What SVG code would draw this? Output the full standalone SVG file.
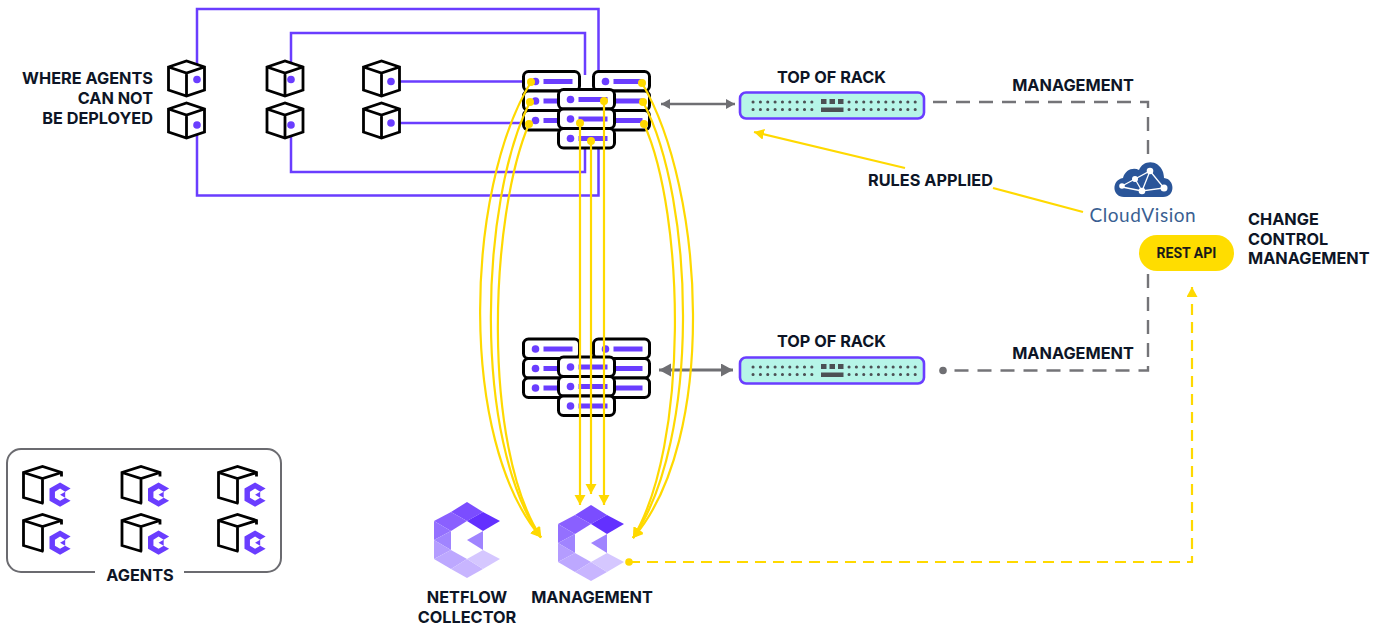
<svg xmlns="http://www.w3.org/2000/svg" width="1384" height="626" viewBox="0 0 1384 626">
<style>
text{font-family:Inter,"Liberation Sans",sans-serif;font-weight:700;font-size:16.3px;fill:#0d1526}
.c{text-anchor:middle}.r{text-anchor:end}
.cube{fill:#fff;stroke:#000;stroke-width:2.8;stroke-linejoin:miter}
.acube{fill:none;stroke:#000;stroke-width:2.8}
.pl{fill:none;stroke:#6a3dff;stroke-width:2.5}
.pd{fill:#6a3dff}
.srv{fill:#fff;stroke:#000;stroke-width:3}
.yl{fill:none;stroke:#ffd900;stroke-width:2.2}
.gd{fill:none;stroke:#747478;stroke-width:2.4;stroke-dasharray:14 9}
.ga{fill:none;stroke:#6f6f73}
.tor{fill:#b6f5e8;stroke:#6a3dff;stroke-width:2.6}
.dots{fill:none;stroke:#4c5054;stroke-width:3;stroke-linecap:round;stroke-dasharray:.1 7.25}
.blk{fill:#4c5054}
</style>
<defs>
<marker id="ay" markerUnits="userSpaceOnUse" markerWidth="12" markerHeight="12" refX="10" refY="5.500" orient="auto"><path d="M0 0L10 5.500L0 11z" fill="#ffd900"/></marker>
<marker id="ag" markerUnits="userSpaceOnUse" markerWidth="12" markerHeight="12" refX="9" refY="5" orient="auto-start-reverse"><path d="M0 0L9 5L0 10z" fill="#6f6f73"/></marker>
<marker id="ag2" markerUnits="userSpaceOnUse" markerWidth="14" markerHeight="14" refX="12" refY="6.500" orient="auto-start-reverse"><path d="M0 0L12 6.500L0 13z" fill="#6f6f73"/></marker>
<g id="cube"><path class="cube" d="M0.500 7L18.500 1L36.500 7V30L18.500 36L0.500 30Z"/><path class="cube" d="M0.500 7L18.500 13L36.500 7M18.500 13V36" style="fill:none"/></g>
<g id="srv"><rect class="srv" x="0" y="0" width="56" height="19.500" rx="5"/><circle class="pd" cx="12" cy="10" r="3.800"/><rect class="pd" x="20" y="7.500" width="29" height="5"/></g>
<g id="hexs"><path class="pd" d="M33 0L66 19L49 29L33 19L17 29V48L33 57L49 48L66 57L33 76L0 57V19ZM49 29V48L33 38Z"/></g>
<g id="agent"><path class="acube" d="M38 10V6L19 0L0 6V31L20 37M0 6L19 12L38 6M19 12V37"/><use href="#hexs" transform="translate(26 16) scale(.32)"/></g>
<g id="logo">
<path fill="#7b4dff" d="M33 0L49 10L33 19L17 10Z"/><path fill="#6330ff" d="M49 10L66 19L49 29L33 19Z"/>
<path fill="#8a60ff" d="M17 10L33 19L17 29L0 19Z"/><path fill="#9470ff" d="M0 19L17 29L0 38Z"/>
<path fill="#a084ff" d="M17 29V48L0 38Z"/><path fill="#b49cff" d="M0 38L17 48L0 57Z"/>
<path fill="#bda8ff" d="M0 57L17 48L33 57L17 67Z"/><path fill="#c8b5ff" d="M17 67L33 57L49 67L33 76Z"/>
<path fill="#d5c7ff" d="M33 57L49 48L66 57L49 67Z"/><path fill="#a084ff" d="M49 29V48L33 38Z"/>
</g>
<g id="torb"><rect class="tor" x="0" y="0" width="184" height="26" rx="6"/>
<path class="dots" d="M13 9.500H77M13 17H77M109 9.500H177M109 17H177"/>
<rect class="blk" x="81" y="6.500" width="5.500" height="5"/><rect class="blk" x="89.500" y="6.500" width="5.500" height="5"/><rect class="blk" x="98" y="6.500" width="5.500" height="5"/><rect class="blk" x="81" y="15" width="22.500" height="4.500"/></g>
</defs>

<g id="connectors-purple">
<path class="pl" d="M197 79V9H598.500V75"/>
<path class="pl" d="M197 125V195.500H598.500V145"/>
<path class="pl" d="M291 79V33H585V75"/>
<path class="pl" d="M291 125V172H585V145"/>
<path class="pl" d="M391 81.500H530"/>
<path class="pl" d="M391 123H530"/>
</g>

<g id="cube-1"><use href="#cube" x="168" y="60"/><circle class="pd" cx="197" cy="79.500" r="3.800"/></g>
<g id="cube-2"><use href="#cube" x="168" y="102"/><circle class="pd" cx="197" cy="125" r="3.800"/></g>
<g id="cube-3"><use href="#cube" x="266.500" y="60"/><circle class="pd" cx="291" cy="79.500" r="3.800"/></g>
<g id="cube-4"><use href="#cube" x="266.500" y="102"/><circle class="pd" cx="291" cy="125" r="3.800"/></g>
<g id="cube-5"><use href="#cube" x="363" y="60"/><circle class="pd" cx="391" cy="81.500" r="3.800"/></g>
<g id="cube-6"><use href="#cube" x="363" y="102"/><circle class="pd" cx="391" cy="123" r="3.800"/></g>

<g id="label-where"><text class="r" x="153" y="84">WHERE AGENTS</text><text class="r" x="153" y="104">CAN NOT</text><text class="r" x="153" y="124">BE DEPLOYED</text></g>

<g id="servers-top">
<use href="#srv" x="523.500" y="71.500"/><use href="#srv" x="523.500" y="91"/><use href="#srv" x="523.500" y="110.500"/>
<use href="#srv" x="593.500" y="71.500"/><use href="#srv" x="593.500" y="91"/><use href="#srv" x="593.500" y="110.500"/>
<use href="#srv" x="558.500" y="89.500"/><use href="#srv" x="558.500" y="109"/><use href="#srv" x="558.500" y="128.500"/>
</g>
<g id="servers-bottom">
<use href="#srv" x="523.500" y="339"/><use href="#srv" x="523.500" y="358.500"/><use href="#srv" x="523.500" y="378"/>
<use href="#srv" x="593.500" y="339"/><use href="#srv" x="593.500" y="358.500"/><use href="#srv" x="593.500" y="378"/>
<use href="#srv" x="558.500" y="357"/><use href="#srv" x="558.500" y="376.500"/><use href="#srv" x="558.500" y="396"/>
</g>

<g id="tor-top"><use href="#torb" x="740" y="92.500"/></g>
<g id="tor-bottom"><use href="#torb" x="740" y="357.500"/></g>
<g id="label-tor"><text class="c" x="831.500" y="83">TOP OF RACK</text><text class="c" x="831.500" y="347">TOP OF RACK</text></g>

<g id="connectors">
<path class="gd" d="M933 102H1148V165"/>
<path class="gd" d="M1148 274V370.500H943"/>
<circle cx="943" cy="370.500" r="3.800" fill="#6f6f73"/>
<path class="ga" stroke-width="2.4" d="M661 104H735" marker-start="url(#ag)" marker-end="url(#ag)"/>
<path class="ga" stroke-width="3" d="M659 370H733" marker-start="url(#ag2)" marker-end="url(#ag2)"/>
<path class="yl" d="M531 82C465 190 458 440 541 537.500" marker-end="url(#ay)"/>
<path class="yl" d="M530 102C480 200 472 440 541 537.500" marker-end="url(#ay)"/>
<path class="yl" d="M529 124C490 215 481 445 541 537.500" marker-end="url(#ay)"/>
<path class="yl" d="M642 83C705 190 718 440 633 538" marker-end="url(#ay)"/>
<path class="yl" d="M643 102C695 200 701 440 633 538" marker-end="url(#ay)"/>
<path class="yl" d="M644 124C685 215 689 445 633 538" marker-end="url(#ay)"/>
<path class="yl" d="M580 123V505" marker-end="url(#ay)"/>
<path class="yl" d="M591 140V494" marker-end="url(#ay)"/>
<path class="yl" d="M604 101V505" marker-end="url(#ay)"/>
<g fill="#ffd900"><circle cx="531" cy="82" r="4"/><circle cx="530" cy="102" r="4"/><circle cx="529" cy="124" r="4"/><circle cx="642" cy="83" r="4"/><circle cx="643" cy="102" r="4"/><circle cx="644" cy="124" r="4"/><circle cx="580" cy="123" r="4"/><circle cx="591" cy="141" r="4"/><circle cx="604" cy="101" r="4"/></g>
<path class="yl" d="M905 168L754 132" marker-end="url(#ay)"/>
<path class="yl" d="M993 188L1083 212"/>
<circle cx="629" cy="562" r="3.800" fill="#ffd900"/>
<path class="yl" d="M629 562H1192V287" stroke-dasharray="11 7" marker-end="url(#ay)"/>
</g>

<g id="label-mgmt"><text class="c" x="1073" y="91">MANAGEMENT</text><text class="c" x="1073" y="359">MANAGEMENT</text></g>
<text x="868" y="186">RULES APPLIED</text>

<g id="cloudvision">
<path fill="#2a5599" d="M1124 197C1112 197 1111 180 1123 178C1125 170 1133 167 1139 170C1143 160 1158 159 1163 172C1164 176 1164 177 1164 178C1175 179 1176 197 1163 197Z"/>
<path fill="none" stroke="#fff" stroke-width="1.300" d="M1122 186L1135 179L1150 171L1142 191L1164 188L1150 171M1135 179L1142 191L1122 187"/>
<g fill="#fff"><circle cx="1150" cy="171" r="3.300"/><circle cx="1135" cy="179" r="3"/><circle cx="1142" cy="191" r="3.300"/><circle cx="1164" cy="188" r="3.500"/><circle cx="1122" cy="186" r="2.800"/></g>
<text x="1089.500" y="222" style="font-family:Lato,sans-serif;font-weight:400;font-size:19px;fill:#3a5f92;letter-spacing:.55px">CloudVision</text>
</g>

<g id="rest-api"><rect x="1139" y="235" width="95" height="36" rx="18" fill="#ffdd00"/><text class="c" x="1186.500" y="258" style="font-family:Roboto,sans-serif;font-size:14px;fill:#1a1a1a">REST API</text></g>
<g id="label-ccm"><text x="1248" y="225">CHANGE</text><text x="1248" y="245">CONTROL</text><text x="1248" y="264">MANAGEMENT</text></g>

<g id="agents">
<path d="M95 572H21A14 14 0 0 1 7 558V463A14 14 0 0 1 21 449H267A14 14 0 0 1 281 463V558A14 14 0 0 1 267 572H184" fill="none" stroke="#6b6b70" stroke-width="2"/>
<use href="#agent" x="23.500" y="466.500"/><use href="#agent" x="122" y="466.500"/><use href="#agent" x="218.500" y="466.500"/>
<use href="#agent" x="23.500" y="514.500"/><use href="#agent" x="122" y="514.500"/><use href="#agent" x="218.500" y="514.500"/>
<text class="c" x="140" y="581">AGENTS</text>
</g>

<g id="netflow-collector"><use href="#logo" x="434" y="502"/><text class="c" x="467" y="603">NETFLOW</text><text class="c" x="467" y="623">COLLECTOR</text></g>
<g id="management"><use href="#logo" x="558" y="505"/><text class="c" x="592" y="603">MANAGEMENT</text></g>
</svg>
